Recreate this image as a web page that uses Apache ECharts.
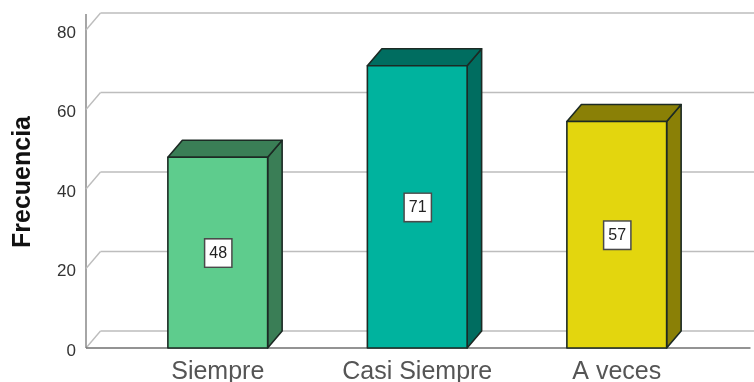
<!DOCTYPE html>
<html>
<head>
<meta charset="utf-8">
<style>html,body{margin:0;padding:0;background:#fff}#chart{width:754px;height:382px}</style>
<script src="https://cdn.jsdelivr.net/npm/echarts@6/dist/echarts.min.js"></script>
</head>
<body>
<div id="chart"></div>
<script>
// Frequency of each response
const categories = ['Siempre', 'Casi Siempre', 'A veces'];
const frequencies = [48, 71, 57];
const frontColors = ['#5ecc8d', '#00b39e', '#e3d60e'];
const shadeColors = ['#3a7e56', '#006d60', '#8a8006'];
const yTicks = [0, 20, 40, 60, 80];

// Oblique offset of the 3D box and back wall, in pixels
const DEPTH_X = 14.5;
const DEPTH_Y = 17;
const AXIS_OFFSET = 32;
const OUTLINE = '#1c2a24';

const chart = echarts.init(document.getElementById('chart'), null, { renderer: 'canvas' });

function line(x1, y1, x2, y2, stroke, width) {
  return { type: 'line', shape: { x1, y1, x2, y2 }, style: { stroke, lineWidth: width, fill: null } };
}

// Back wall: one receding gridline per tick, plus the front axis lines
function renderWall(params, api) {
  const v = api.value(1);
  const y = api.coord([0, v])[1];
  const rect = params.coordSys;
  const left = rect.x - AXIS_OFFSET;
  const right = rect.x + rect.width;
  const children = [
    line(left, y, left + DEPTH_X, y - DEPTH_Y, '#bdbdbd', 1.4),
    line(left + DEPTH_X, y - DEPTH_Y, 754, y - DEPTH_Y, '#bdbdbd', 1.4)
  ];
  if (v === 0) {
    children.push(line(left, y, right + 34, y, '#6f6f6f', 1.4));
    const top = api.coord([0, yTicks[yTicks.length - 1]])[1] - DEPTH_Y + 1;
    children.push(line(left, y, left, top, '#808080', 1.4));
  }
  return { type: 'group', children };
}

// Bar as a front face, a top face and a side face with a value box at its centre
function renderBar(params, api) {
  const i = params.dataIndex;
  const base = api.coord([api.value(0), 0]);
  const head = api.coord([api.value(0), api.value(1)]);
  const w = api.size([1, 0])[0] * 0.5;
  const l = base[0] - w / 2;
  const r = base[0] + w / 2;
  const t = head[1];
  const b = base[1];
  const border = { stroke: OUTLINE, lineWidth: 1.6, lineJoin: 'round' };
  return {
    type: 'group',
    children: [
      { type: 'polygon', shape: { points: [[r, b], [r + DEPTH_X, b - DEPTH_Y], [r + DEPTH_X, t - DEPTH_Y], [r, t]] },
        style: { fill: shadeColors[i], ...border } },
      { type: 'polygon', shape: { points: [[l, t], [l + DEPTH_X, t - DEPTH_Y], [r + DEPTH_X, t - DEPTH_Y], [r, t]] },
        style: { fill: shadeColors[i], ...border } },
      { type: 'rect', shape: { x: l, y: t, width: r - l, height: b - t },
        style: { fill: frontColors[i], ...border } },
      { type: 'text', x: base[0] + 0.5, y: (t + b) / 2 + 0.5,
        style: {
          text: String(api.value(1)),
          align: 'center', verticalAlign: 'middle',
          font: '16px "Liberation Sans", Arial, sans-serif',
          fill: '#222',
          backgroundColor: '#fff',
          borderColor: '#4a4a4a', borderWidth: 1.5,
          padding: [6, 4, 5, 4]
        } }
    ]
  };
}

chart.setOption({
  animation: false,
  backgroundColor: '#ffffff',
  textStyle: { fontFamily: '"Liberation Sans", Arial, sans-serif' },
  grid: { left: 118, top: 30, width: 598.5, height: 318, outerBoundsMode: 'none' },
  xAxis: {
    type: 'category',
    data: categories,
    axisLine: { show: false },
    axisTick: { show: false },
    axisLabel: { fontSize: 25, color: '#555', margin: 12, interval: 0, hideOverlap: false }
  },
  yAxis: {
    type: 'value',
    min: 0, max: 80, interval: 20,
    offset: AXIS_OFFSET,
    splitLine: { show: false },
    axisLine: { show: false },
    axisTick: { show: false },
    axisLabel: { fontSize: 17, color: '#333', margin: 10, verticalAlign: 'top', lineHeight: 6 },
    name: 'Frecuencia',
    nameLocation: 'middle',
    nameRotate: 90,
    nameGap: 50,
    nameTextStyle: { fontSize: 25, fontWeight: 'bold', color: '#111', padding: [0, 0, 0, 14] }
  },
  series: [
    { type: 'custom', name: 'wall', clip: false, silent: true, z: 1,
      renderItem: renderWall,
      data: yTicks.map(v => [0, v]),
      encode: { x: 0, y: 1 } },
    { type: 'custom', name: 'Frecuencia', clip: false, z: 2,
      renderItem: renderBar,
      data: frequencies.map((v, i) => [i, v]),
      encode: { x: 0, y: 1 } }
  ]
});
</script>
</body>
</html>
